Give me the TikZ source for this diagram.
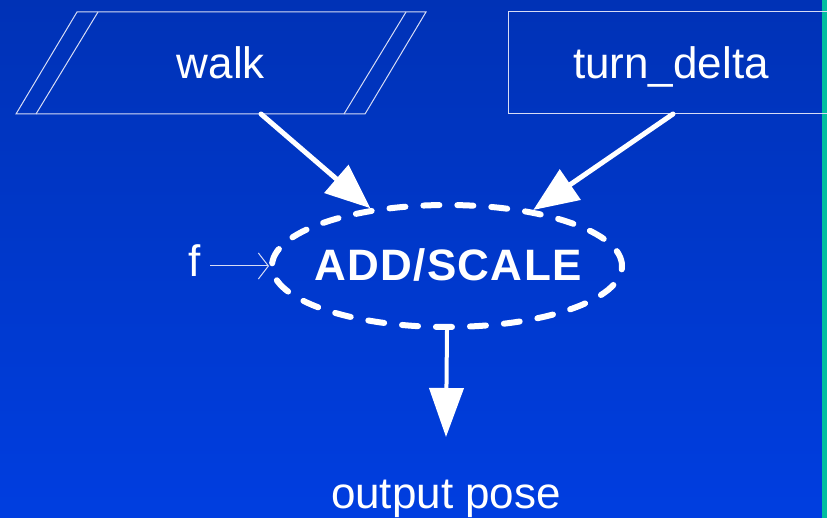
\documentclass[tikz,border=0pt]{standalone}
\usepackage{fontspec}
\setmainfont{Liberation Sans}
\usetikzlibrary{shapes.geometric,arrows.meta}
\definecolor{bgtop}{RGB}{0,50,182}
\definecolor{bgbot}{RGB}{0,62,224}
\definecolor{strip}{RGB}{0,190,160}
\definecolor{thinline}{RGB}{215,220,245}
\tikzset{
  lbl/.style={text=white, inner sep=0pt, font=\fontsize{44}{48}\selectfont},
  boxline/.style={draw=thinline, line width=1pt},
  fatarrow/.style={draw=white, line width=5pt, line cap=round,
    -{Triangle[length=45pt,width=36pt]}, fill=white},
  opellipse/.style={ellipse, draw=white, line width=6pt, dash pattern=on 16pt off 18pt,
    line cap=round, minimum width=350pt, minimum height=122pt, inner sep=0pt},
}
\begin{document}
\begin{tikzpicture}[x=1pt,y=-1pt]
\useasboundingbox (0,0) rectangle (827,518);
\shade[top color=bgtop, bottom color=bgbot] (0,0) rectangle (827,518);
\fill[strip] (822,0) rectangle (827,518);
% walk (parallelogram with double sides)
\draw[boxline] (77,12) -- (426,12) -- (365,114) -- (16,114) -- cycle;
\draw[boxline] (98,12) -- (36,114);
\draw[boxline] (406,12) -- (344,114);
\node[lbl, anchor=base] (walk) at (221,79) {walk};
% turn_delta (box running off the right edge)
\begin{scope}
\clip (0,0) rectangle (827,518);
\draw[boxline] (840,12) -- (508,12) -- (508,114) -- (840,114);
\end{scope}
\node[lbl, anchor=base] (turn) at (671,79) {turn\_delta};
\coordinate (walkS) at (261,114);
\coordinate (turnS) at (673,114);
% ADD/SCALE
\node[opellipse] (add) at (447,266) {};
\node[lbl, anchor=base, font=\fontsize{44}{48}\selectfont\bfseries\addfontfeatures{LetterSpace=3}] (addtxt) at (448,281) {ADD/SCALE};
\node[lbl, anchor=base] (f) at (195,277) {f};
% connectors
\draw[fatarrow] (walkS) -- (add.143);
\draw[fatarrow] (turnS) -- (add.33);
\draw[draw=thinline, line width=1pt, -{Straight Barb[length=10pt,width=26pt]}] (f.east |- add.west) ++(9,0) coordinate (fS) -- (add.west);
\node[lbl, anchor=base] (out) at (446,508) {output pose};
\draw[draw=white, line width=4pt, -{Triangle[length=49pt,width=34pt]}] (add.south) -- (out.north |- 0,437) coordinate (outN);
\end{tikzpicture}
\end{document}
